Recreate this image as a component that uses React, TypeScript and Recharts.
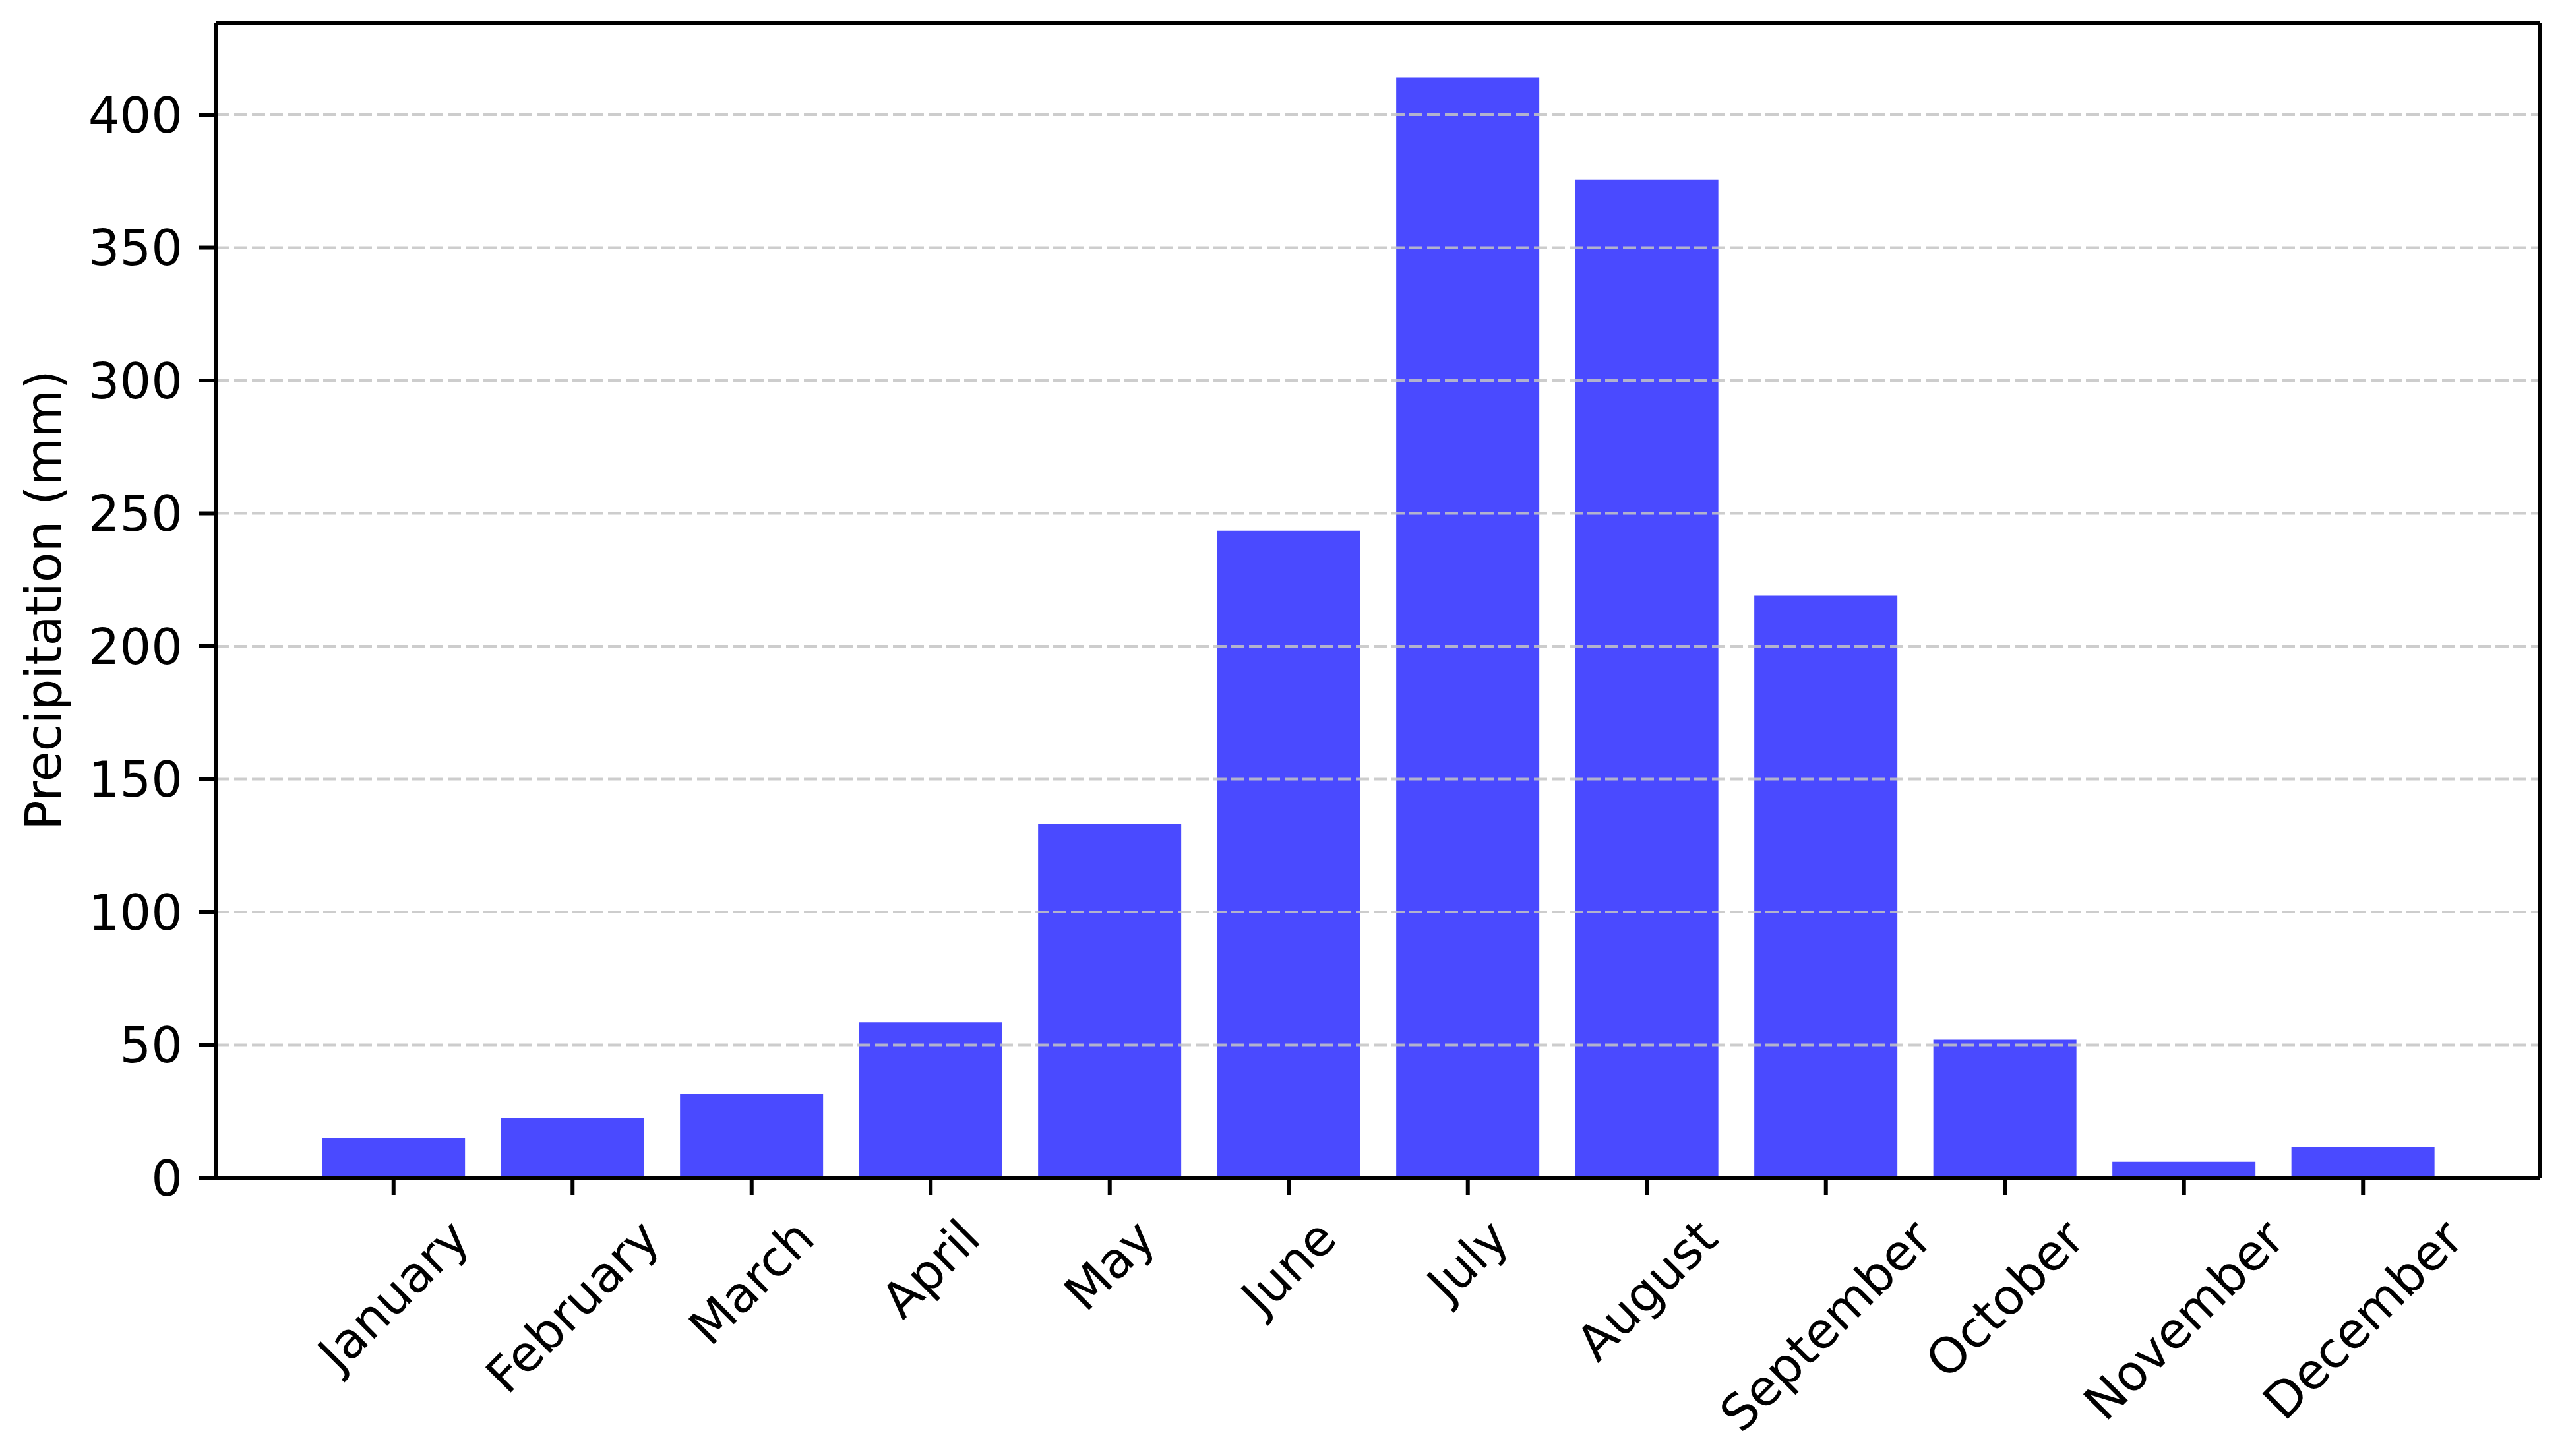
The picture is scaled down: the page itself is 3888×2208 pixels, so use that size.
import { BarChart, Bar, XAxis, YAxis, ReferenceLine, Label } from 'recharts'

const months = [
  'January', 'February', 'March', 'April', 'May', 'June',
  'July', 'August', 'September', 'October', 'November', 'December',
]
const precipitation = [15, 22.5, 31.5, 58.5, 133, 243.5, 414, 375.5, 219, 52, 6, 11.5]
const yTicks = [0, 50, 100, 150, 200, 250, 300, 350, 400]
const yMax = 434.5

const data = months.map((month, i) => ({ month, value: precipitation[i] }))

const FONT = '"DejaVu Sans", "Liberation Sans", sans-serif'
const FONT_SIZE = 75

let ctx: CanvasRenderingContext2D | null = null
function textWidth(s: string) {
  if (!ctx) ctx = document.createElement('canvas').getContext('2d')
  if (!ctx) return s.length * FONT_SIZE * 0.6
  ctx.font = `${FONT_SIZE}px "DejaVu Sans"`
  return ctx.measureText(s).width
}

// rotated 45deg label, bbox centred under the tick like matplotlib
function MonthTick(props: any) {
  const { x, y, payload } = props
  const w = textWidth(payload.value)
  const h = FONT_SIZE * 0.97
  const cy = y + (w + h) / (2 * Math.SQRT2)
  return (
    <text
      x={x}
      y={cy}
      textAnchor="middle"
      dominantBaseline="central"
      fontSize={FONT_SIZE}
      fontFamily={FONT}
      fill="#000"
      transform={`rotate(-45 ${x} ${cy})`}
    >
      {payload.value}
    </text>
  )
}

export default function App() {
  return (
    <div style={{ position: 'absolute', left: 0, top: 0, width: 3888, height: 2208, background: '#fff' }}>
      <BarChart
        width={3888}
        height={2208}
        data={data}
        margin={{ top: 35, right: 0, bottom: 0, left: 0 }}
        barCategoryGap="10%"
      >
        <XAxis
          dataKey="month"
          height={422}
          interval={0}
          padding={{ left: 133, right: 133 }}
          tickSize={26}
          tickMargin={26}
          axisLine={{ stroke: '#000', strokeWidth: 6 }}
          tickLine={{ stroke: '#000', strokeWidth: 6 }}
          tick={(p: any) => <MonthTick {...p} />}
        />
        <YAxis
          width={328}
          domain={[0, yMax]}
          ticks={yTicks}
          interval={0}
          tickSize={26}
          tickMargin={25}
          axisLine={{ stroke: '#000', strokeWidth: 6 }}
          tickLine={{ stroke: '#000', strokeWidth: 6 }}
          tick={{ fontSize: FONT_SIZE, fill: '#000', fontFamily: FONT }}
        >
          <Label
            content={() => (
              <text
                x={66}
                y={910}
                textAnchor="middle"
                dominantBaseline="central"
                fontSize={FONT_SIZE}
                fontFamily={FONT}
                fill="#000"
                transform="rotate(-90 66 910)"
              >
                Precipitation (mm)
              </text>
            )}
          />
        </YAxis>
        <YAxis
          yAxisId="right"
          orientation="right"
          width={36}
          domain={[0, yMax]}
          tick={false}
          tickLine={false}
          axisLine={{ stroke: '#000', strokeWidth: 6 }}
        />
        <Bar dataKey="value" fill="#4a4aff" isAnimationActive={false} />
        {yTicks.filter((v) => v > 0).map((v) => (
          <ReferenceLine
            key={v}
            y={v}
            stroke="#c4c4c4"
            strokeOpacity={0.85}
            strokeWidth={4}
            strokeDasharray="20 7"
          />
        ))}
        <ReferenceLine y={yMax} stroke="#000" strokeWidth={6} />
      </BarChart>
    </div>
  )
}
